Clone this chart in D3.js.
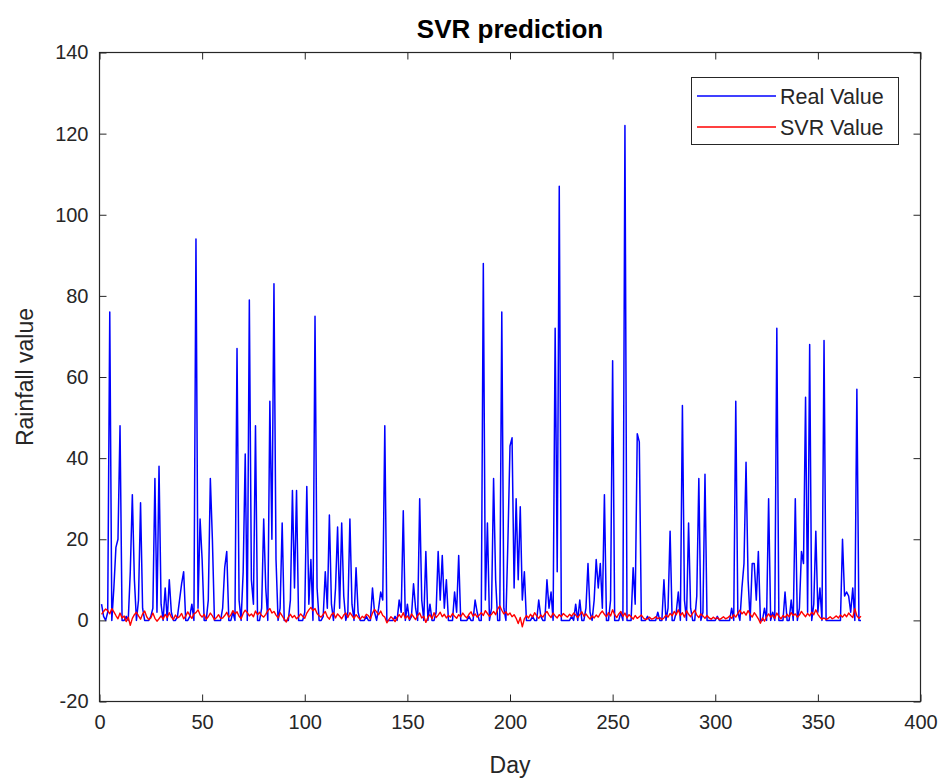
<!DOCTYPE html>
<html>
<head>
<meta charset="utf-8">
<script src="https://cdn.jsdelivr.net/npm/d3@7"></script>
<style>
  html, body { margin: 0; padding: 0; background: #fff; }
  svg { display: block; }
  text { font-family: "Liberation Sans", Arial, Helvetica, sans-serif; }
</style>
</head>
<body>
<svg id="chart" width="946" height="781"></svg>
<script>
// ---------------- data ----------------
const title = "SVR prediction";
const xLabel = "Day";
const yLabel = "Rainfall value";
const seriesNames = ["Real Value", "SVR Value"];
const xTicks = [0, 50, 100, 150, 200, 250, 300, 350, 400];
const yTicks = [-20, 0, 20, 40, 60, 80, 100, 120, 140];

const realValue = [
  4,1,0,2,76,0,8,18,20,48,0,0,1,0,12,31,10,0,5,29,
  3,0,0,0,1,3,35,2,38,4,0,8,0,10,2,0,0,1,5,9,
  12,0,0,1,4,0,94,3,25,15,0,0,5,35,20,0,0,0,0,3,
  13,17,0,0,2,0,67,5,0,12,41,0,79,10,4,48,0,0,3,25,
  8,0,54,20,83,15,0,3,24,0,0,0,5,32,8,32,0,0,0,2,
  33,4,15,0,75,8,0,0,1,12,3,26,4,0,8,23,3,24,6,0,
  2,25,4,0,13,2,0,0,0,1,0,0,8,2,0,3,7,5,48,0,
  0,0,0,1,0,5,2,27,0,4,0,1,9,3,0,30,5,0,17,0,
  4,0,0,2,17,5,16,3,10,0,0,0,7,2,16,0,0,0,0,1,
  0,0,5,2,0,0,88,5,24,0,3,35,10,0,0,76,3,0,20,43,
  45,8,30,10,28,5,12,0,0,0,1,0,0,5,1,0,0,10,3,7,
  0,72,12,107,0,0,0,0,0,1,0,4,0,5,0,0,3,14,2,0,
  5,15,8,14,3,31,0,0,5,64,0,0,0,2,0,122,0,0,0,13,
  4,46,44,0,0,0,1,0,0,0,0,2,0,0,10,0,3,22,0,0,
  2,7,0,53,5,0,24,3,0,0,6,35,0,2,36,0,0,0,0,0,
  1,0,0,0,0,0,0,3,0,54,2,0,8,14,39,10,0,14,14,5,
  17,0,0,3,0,30,0,2,0,72,0,0,0,7,0,0,5,0,30,0,
  3,17,14,55,2,68,0,4,22,2,8,0,69,0,0,0,0,0,0,0,
  0,20,6,7,6,2,8,0,57,0,0
];

const svrValue = [
  1.5,2.2,2.8,2.4,1.6,2.9,2.1,1.2,0.4,1.8,0.6,1.1,-0.3,0.8,-1.2,0.5,1.4,2.0,1.1,0.3,
  1.6,2.3,0.9,0.2,0.6,1.8,0.5,-0.2,0.4,1.1,0.3,1.5,0.7,1.9,0.8,0.2,1.3,0.6,0.9,1.7,
  0.4,1.0,2.1,1.2,0.5,1.6,1.9,2.6,1.4,0.8,1.5,0.3,0.9,1.8,1.1,0.2,0.7,1.4,0.5,0.6,
  1.2,2.0,0.8,1.3,2.4,1.6,2.1,1.0,0.4,1.7,2.5,1.9,1.1,1.6,0.9,2.3,1.4,2.0,1.2,0.8,
  1.5,2.4,2.9,1.8,2.2,1.3,0.6,1.9,1.1,0.3,-0.4,0.8,1.5,0.7,1.2,0.4,0.9,1.6,1.0,0.5,
  1.8,2.6,3.2,2.4,2.9,1.7,1.1,0.8,1.5,2.2,0.9,0.3,1.4,1.9,0.6,1.6,1.0,0.4,1.3,1.8,
  0.7,1.9,1.2,0.5,1.4,0.8,0.3,1.0,0.6,1.5,1.2,0.4,1.8,2.7,2.1,1.4,2.3,1.2,0.8,-0.6,
  0.2,0.9,0.4,-0.3,0.6,1.4,0.7,1.9,0.5,1.1,0.3,1.6,0.9,0.2,1.2,1.8,0.6,1.0,-0.5,0.8,
  1.4,0.4,1.9,0.7,1.3,2.0,0.9,1.5,0.6,1.2,0.8,1.7,1.0,0.5,1.4,0.9,1.8,1.1,0.6,1.5,
  2.1,1.0,1.6,0.8,1.3,1.9,1.2,2.4,1.7,1.0,1.5,2.2,1.4,2.8,3.6,2.5,1.6,2.1,1.3,1.8,
  0.9,1.4,0.5,-0.8,0.7,-1.6,0.4,1.2,0.6,1.5,0.8,1.9,1.1,0.5,1.3,0.8,1.6,2.2,1.3,0.7,
  1.8,1.1,0.6,1.4,0.9,1.7,1.2,0.8,1.5,1.0,1.8,1.3,0.7,1.4,2.1,1.0,1.6,0.9,0.3,1.1,
  0.6,1.3,0.8,1.7,2.3,1.5,0.9,1.9,1.1,2.6,1.4,0.7,1.6,2.2,1.0,1.8,0.6,1.4,0.9,0.3,
  1.2,0.5,0.9,1.3,0.6,0.2,0.4,0.8,0.3,0.5,0.9,0.4,0.7,0.2,0.6,1.3,0.8,1.7,1.1,2.2,
  1.4,2.6,1.2,1.9,0.8,2.4,1.5,0.9,1.8,2.5,1.3,0.7,1.6,1.1,0.5,1.2,0.6,0.3,0.8,0.4,
  0.7,0.2,0.5,0.9,0.4,0.6,1.1,0.5,1.4,0.8,1.7,2.5,1.6,2.1,1.3,2.4,1.5,0.8,1.9,1.2,
  0.4,-0.7,0.6,-0.2,0.9,1.6,0.8,1.3,0.5,1.8,1.0,0.4,1.2,0.7,1.5,0.9,1.9,1.2,1.6,0.8,
  1.3,2.2,1.5,0.9,1.7,1.1,2.0,1.4,2.6,1.5,0.8,0.3,0.6,0.2,0.5,0.9,0.4,0.7,1.1,0.6,
  1.3,0.8,1.5,0.9,1.8,1.2,0.7,2.9,1.1,0.5,1.0
];

const days = realValue.map((_, i) => i + 1);

// ---------------- layout ----------------
const svg = d3.select("#chart");
const L = 99.5, R = 920.5, T = 52.5, B = 701.5;
const axisColor = "#262626";

const x = d3.scaleLinear().domain([0, 400]).range([L, R]);
const y = d3.scaleLinear().domain([-20, 140]).range([B, T]);

svg.append("rect").attr("x", 0).attr("y", 0).attr("width", 946).attr("height", 781).attr("fill", "#fff");

// data lines
const lineGen = d3.line().x((d, i) => x(days[i])).y(d => y(d));
svg.append("path").datum(realValue).attr("d", lineGen)
  .attr("fill", "none").attr("stroke", "#0000ff").attr("stroke-width", 1.5).attr("stroke-linejoin", "round");
svg.append("path").datum(svrValue).attr("d", lineGen)
  .attr("fill", "none").attr("stroke", "#ff0000").attr("stroke-width", 1.4).attr("stroke-linejoin", "round");

// axes
const fmt = d => String(d);
function styleAxis(g, fs) {
  g.select(".domain").remove();
  g.selectAll(".tick line").attr("stroke", axisColor).attr("stroke-width", 1);
  g.selectAll(".tick text").attr("fill", axisColor).attr("font-size", fs)
    .attr("font-family", "Liberation Sans, Arial, sans-serif");
}
const gx = svg.append("g").attr("transform", `translate(0,${B})`)
  .call(d3.axisBottom(x).tickValues(xTicks).tickSize(-7).tickPadding(13).tickFormat(fmt));
styleAxis(gx, 20);
const gxt = svg.append("g").attr("transform", `translate(0,${T})`)
  .call(d3.axisTop(x).tickValues(xTicks).tickSize(-7).tickFormat(""));
styleAxis(gxt, 20);
const gy = svg.append("g").attr("transform", `translate(${L},0)`)
  .call(d3.axisLeft(y).tickValues(yTicks).tickSize(-7).tickPadding(11).tickFormat(fmt));
styleAxis(gy, 20);
const gyr = svg.append("g").attr("transform", `translate(${R},0)`)
  .call(d3.axisRight(y).tickValues(yTicks).tickSize(-7).tickFormat(""));
styleAxis(gyr, 20);

// box
svg.append("rect").attr("x", L).attr("y", T).attr("width", R - L).attr("height", B - T)
  .attr("fill", "none").attr("stroke", axisColor).attr("stroke-width", 1.2);

// title & labels
svg.append("text").attr("x", 510).attr("y", 38).attr("text-anchor", "middle")
  .attr("font-size", 26).attr("font-weight", "bold").attr("fill", "#000").text(title);
svg.append("text").attr("x", 510).attr("y", 773).attr("text-anchor", "middle")
  .attr("font-size", 23).attr("fill", axisColor).text(xLabel);
svg.append("text").attr("transform", `translate(33,${(T + B) / 2}) rotate(-90)`).attr("text-anchor", "middle")
  .attr("font-size", 23).attr("fill", axisColor).text(yLabel);

// legend
const lg = svg.append("g");
lg.append("rect").attr("x", 691.5).attr("y", 77.5).attr("width", 207).attr("height", 67)
  .attr("fill", "#fff").attr("stroke", axisColor).attr("stroke-width", 1);
const legendColors = ["#0000ff", "#ff0000"];
seriesNames.forEach((name, i) => {
  const yy = 96 + i * 31;
  lg.append("line").attr("x1", 697).attr("x2", 776).attr("y1", yy).attr("y2", yy)
    .attr("stroke", legendColors[i]).attr("stroke-width", 1.3);
  lg.append("text").attr("x", 780).attr("y", yy + 7.5).attr("font-size", 21.5).attr("fill", axisColor).text(name);
});
</script>
</body>
</html>
